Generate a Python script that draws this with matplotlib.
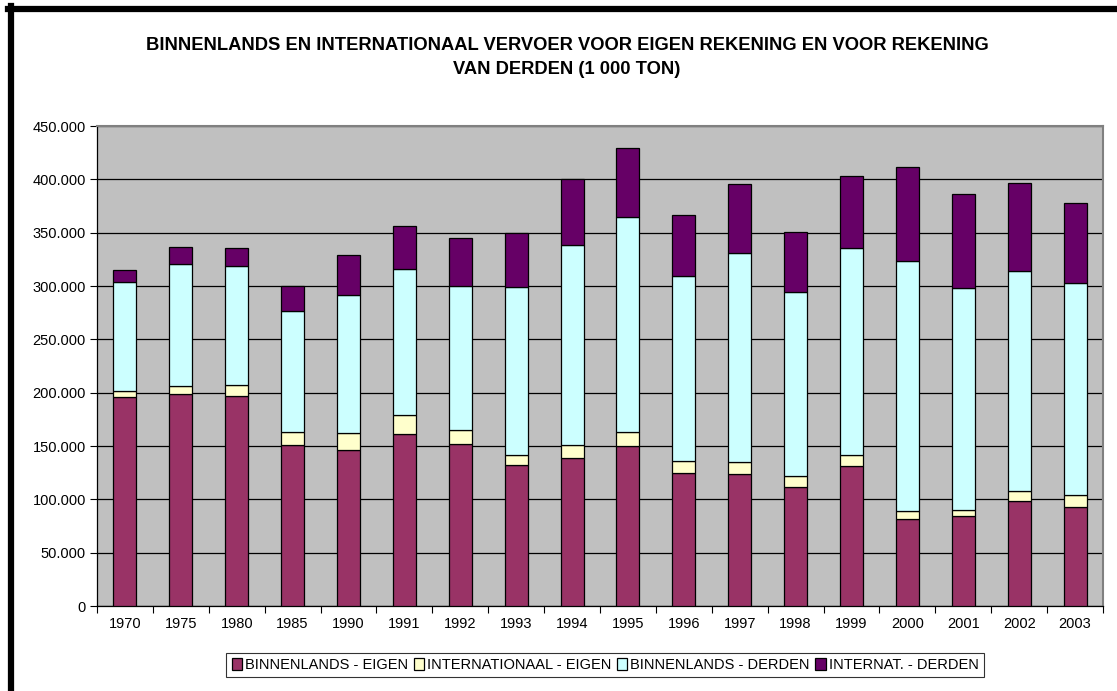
import matplotlib
matplotlib.use("Agg")
import matplotlib.pyplot as plt
from matplotlib.ticker import FuncFormatter, MultipleLocator
from matplotlib.lines import Line2D
import numpy as np

plt.rcParams['font.family'] = ['Liberation Sans', 'DejaVu Sans']

years = ['1970', '1975', '1980', '1985', '1990', '1991', '1992', '1993', '1994',
         '1995', '1996', '1997', '1998', '1999', '2000', '2001', '2002', '2003']
binnenlands_eigen = [196000, 199000, 197000, 151000, 146000, 161000, 152000, 132000, 139000,
                     150000, 125000, 124000, 112000, 131000, 82000, 84000, 98000, 93000]
internationaal_eigen = [6000, 7000, 10000, 12000, 16000, 18000, 13000, 10000, 12000,
                        13000, 11000, 11000, 10000, 11000, 7000, 6000, 10000, 11000]
binnenlands_derden = [102000, 115000, 112000, 114000, 130000, 137000, 135000, 157000, 187000,
                      202000, 173000, 196000, 172000, 194000, 234000, 208000, 206000, 199000]
internat_derden = [11000, 16000, 17000, 23000, 37000, 40000, 45000, 51000, 62000,
                   64000, 58000, 65000, 57000, 67000, 89000, 88000, 83000, 75000]

series = [
    ('BINNENLANDS - EIGEN', binnenlands_eigen, '#993366'),
    ('INTERNATIONAAL - EIGEN', internationaal_eigen, '#FFFFCC'),
    ('BINNENLANDS - DERDEN', binnenlands_derden, '#CCFFFF'),
    ('INTERNAT. - DERDEN', internat_derden, '#660066'),
]

fig = plt.figure(figsize=(11.17, 6.91), dpi=100)
W, H = 1117, 691
ax = fig.add_axes([97 / W, 1 - 606 / H, (1103 - 97) / W, (606 - 126) / H])
ax.set_facecolor('#C0C0C0')

x = np.arange(len(years))
bottom = np.zeros(len(years))
for name, vals, col in series:
    v = np.array(vals, dtype=float)
    ax.bar(x, v, width=0.41, bottom=bottom, color=col, edgecolor='black', linewidth=0.9, zorder=3, label=name)
    bottom += v

ax.set_xlim(-0.5, len(years) - 0.5)
ax.set_ylim(0, 450000)
ax.yaxis.set_major_locator(MultipleLocator(50000))
ax.yaxis.set_major_formatter(FuncFormatter(lambda v, p: '0' if v == 0 else f"{int(v):,}".replace(',', '.')))
ax.set_xticks(x)
ax.set_xticklabels(years)
ax.set_xticks(np.arange(-0.5, len(years), 1), minor=True)
ax.tick_params(axis='x', which='major', length=0, pad=8, labelsize=10.5)
ax.tick_params(axis='x', which='minor', length=5, direction='out', width=0.8)
ax.tick_params(axis='y', length=5, direction='out', width=0.8, labelsize=10.5, pad=3)
ax.grid(axis='y', color='black', linewidth=0.9, zorder=1)
ax.set_axisbelow(True)
for s in ['top', 'right']:
    ax.spines[s].set_color('#808080')
    ax.spines[s].set_linewidth(1.5)
for s in ['left', 'bottom']:
    ax.spines[s].set_color('black')
    ax.spines[s].set_linewidth(0.9)

fig.text(567 / W, 1 - 45 / H, 'BINNENLANDS EN INTERNATIONAAL VERVOER VOOR EIGEN REKENING EN VOOR REKENING',
         ha='center', va='center', fontsize=13.2, fontweight='bold')
fig.text(567 / W, 1 - 69 / H, 'VAN DERDEN (1 000 TON)', ha='center', va='center', fontsize=13.2, fontweight='bold')

leg = fig.legend(loc='center', bbox_to_anchor=(605 / W, 1 - 665 / H), ncol=4, frameon=True,
                 fancybox=False, edgecolor='black', fontsize=10.5, handlelength=0.7, handleheight=0.9,
                 handletextpad=0.2, columnspacing=0.4, borderpad=0.35, borderaxespad=0)
leg.get_frame().set_linewidth(0.8)

# black border lines (top and left)
fig.add_artist(Line2D([8 / W, 1], [1 - 9 / H, 1 - 9 / H], color='black', linewidth=4.5, transform=fig.transFigure))
fig.add_artist(Line2D([11 / W, 11 / W], [0, 1 - 6 / H], color='black', linewidth=4.5, transform=fig.transFigure))

fig.savefig('out.png', dpi=100)
